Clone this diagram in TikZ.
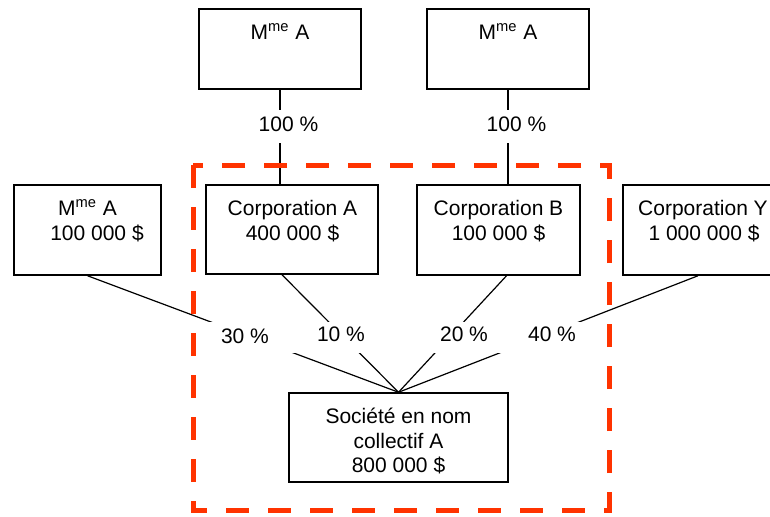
\documentclass[tikz,border=0pt]{standalone}
\usepackage{fontspec}
\setmainfont{Liberation Sans}
\definecolor{redorange}{HTML}{FF3300}
\begin{document}
\begin{tikzpicture}[x=0.5pt,y=-0.5pt,
 box/.style={draw=black,line width=0.75pt,fill=white,inner sep=0pt},
 txt/.style={anchor=base,inner sep=0pt,font=\fontsize{10.5}{12}\selectfont},
 link/.style={draw=black,line width=0.6pt},
 frame/.style={draw=redorange,line width=2.5pt,dash pattern=on 11.5pt off 9.5pt}]
\clip (0,0) rectangle (770,516);
\fill[white] (0,0) rectangle (770,516);
% boxes
\node[box,minimum width=81pt,minimum height=40pt] (topA) at (280,49) {};
\node[box,minimum width=81pt,minimum height=40pt] (topB) at (508,49) {};
\node[box,minimum width=73.5pt,minimum height=45pt] (mmeL) at (87.5,230) {};
\node[box,minimum width=86pt,minimum height=44.5pt] (corpA) at (292,229.5) {};
\node[box,minimum width=81.5pt,minimum height=45pt] (corpB) at (498.5,230) {};
\node[box,minimum width=81pt,minimum height=45pt] (corpY) at (704,230) {};
\node[box,minimum width=109.5pt,minimum height=44.5pt] (snc) at (398.5,437.5) {};
% texts
\node[txt] (tA) at (280,39) {M\textsuperscript{me} A};
\node[txt] (tB) at (508,39) {M\textsuperscript{me} A};
\node[txt] (tL1) at (87.5,215) {M\textsuperscript{me} A};
\node[txt] (tL2) at (97,240) {100 000 \$};
\node[txt] (tCA1) at (292.5,215) {Corporation A};
\node[txt] (tCA2) at (292.5,240) {400 000 \$};
\node[txt] (tCB1) at (498.5,215) {Corporation B};
\node[txt] (tCB2) at (498.5,240) {100 000 \$};
\node[txt] (tCY1) at (703,215) {Corporation Y};
\node[txt] (tCY2) at (704,240) {1 000 000 \$};
\node[txt] (tS1) at (398.5,423) {Société en nom};
\node[txt] (tS2) at (398.5,448) {collectif A};
\node[txt] (tS3) at (398.5,472) {800 000 \$};
% connectors
\draw[link] (topA.south) -- (topA.south |- corpA.north);
\draw[link] (topB.south) -- (topB.south |- corpB.north);
\draw[link] (mmeL.south) -- (snc.north);
\draw[link] ([xshift=-5pt]corpA.south) -- (snc.north);
\draw[link] ([xshift=4pt]corpB.south) -- (snc.north);
\draw[link] ([xshift=-3pt]corpY.south) -- (snc.north);
% label gaps
\fill[white] (250,110) rectangle (330,143);
\fill[white] (478,110) rectangle (558,143);
\fill[white] (205,322) rectangle (590,353);
% labels
\node[txt] (p1) at (288.5,131) {100 \%};
\node[txt] (p2) at (516.5,131) {100 \%};
\node[txt] (p3) at (245,343) {30 \%};
\node[txt] (p4) at (341,341) {10 \%};
\node[txt] (p5) at (464,341) {20 \%};
\node[txt] (p6) at (552,341) {40 \%};
% dashed frame
\draw[frame] (193,165) rectangle (609,510);
\end{tikzpicture}
\end{document}
